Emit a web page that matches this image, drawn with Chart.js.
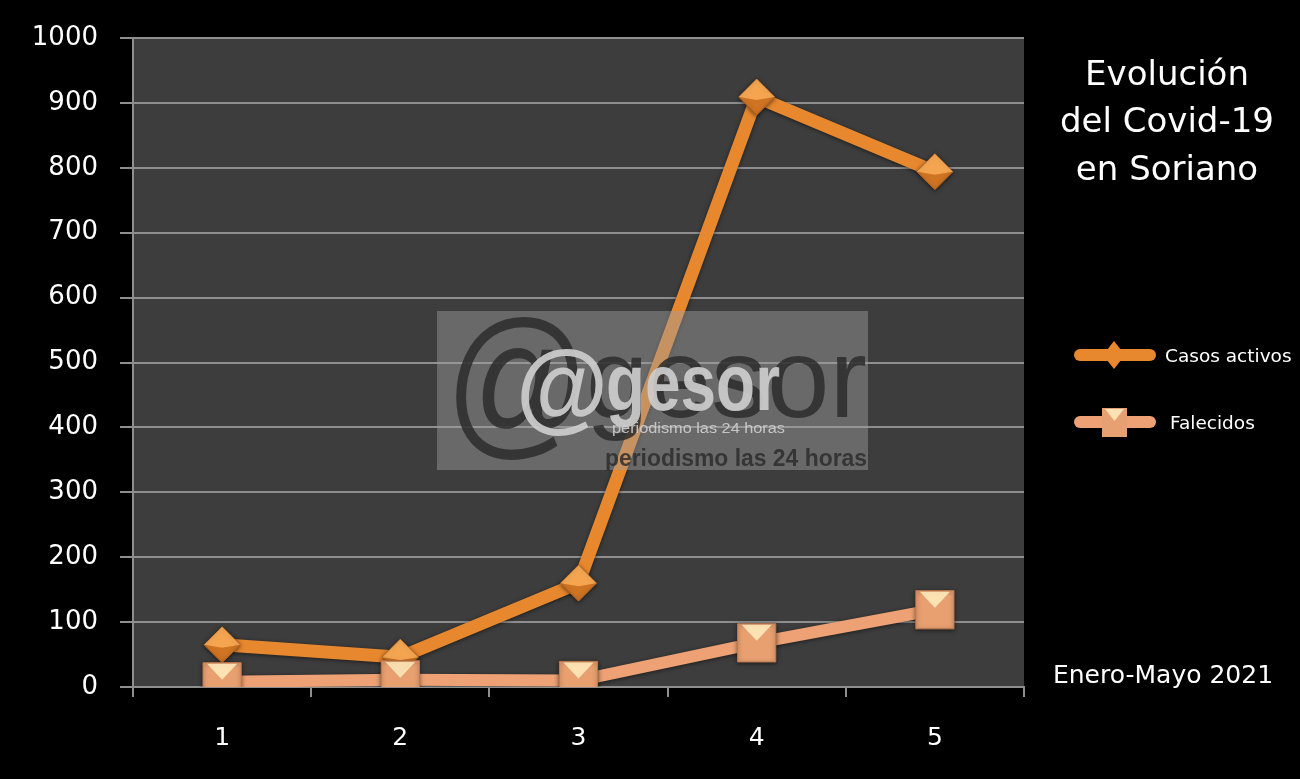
<!DOCTYPE html>
<html>
<head>
<meta charset="utf-8">
<script src="https://cdn.jsdelivr.net/npm/chart.js@4"></script>
<style>
  html, body { margin: 0; padding: 0; background: #000; }
  #wrap { position: relative; width: 1300px; height: 779px; }
</style>
</head>
<body>
<div id="wrap">
  <canvas id="covid-chart" width="1300" height="779"></canvas>
</div>
<script>
const categories = ["1", "2", "3", "4", "5"];
const casosActivos = [65, 46, 160, 909, 794];
const falecidos = [8, 11, 10, 68, 119];
const yTicks = [0, 100, 200, 300, 400, 500, 600, 700, 800, 900, 1000];
const titleLines = ["Evolución", "del Covid-19", "en Soriano"];
const subtitle = "Enero-Mayo 2021";
const seriesNames = ["Casos activos", "Falecidos"];

const ORANGE = "#E8882E";
const SALMON = "#EDA174";
const GRID = "#8e8e8e";

// plot background + black surround
const backdrop = {
  id: "backdrop",
  beforeDraw(chart) {
    const { ctx, chartArea: a } = chart;
    ctx.save();
    ctx.fillStyle = "#000";
    ctx.fillRect(0, 0, chart.width, chart.height);
    ctx.fillStyle = "#3d3d3d";
    ctx.fillRect(a.left, a.top, a.right - a.left, a.bottom - a.top);
    ctx.restore();
  }
};

// soft dark edge on lines and markers
const lineShadow = {
  id: "lineShadow",
  beforeDatasetsDraw(chart) {
    const ctx = chart.ctx;
    ctx.save();
    ctx.shadowColor = "rgba(0,0,0,0.55)";
    ctx.shadowBlur = 4;
    ctx.shadowOffsetY = 1;
  },
  afterDatasetsDraw(chart) {
    const ctx = chart.ctx;
    ctx.restore();
    // highlights on the markers, placed from the library's point elements
    ctx.save();
    chart.data.datasets.forEach((ds, i) => {
      const meta = chart.getDatasetMeta(i);
      meta.data.forEach(pt => {
        const x = pt.x, y = pt.y;
        ctx.beginPath();
        if (ds.pointStyle === "rectRot") {
          const r = ds.pointRadius;
          ctx.fillStyle = "rgba(255,190,110,0.55)";
          ctx.moveTo(x - r, y); ctx.lineTo(x, y - r); ctx.lineTo(x + r, y);
          ctx.lineTo(x, y + 3);
          ctx.closePath();
          ctx.fill();
          ctx.beginPath();
          ctx.fillStyle = "rgba(150,70,10,0.3)";
          ctx.moveTo(x - r, y); ctx.lineTo(x, y + 3); ctx.lineTo(x + r, y); ctx.lineTo(x, y + r);
          ctx.closePath();
          ctx.fill();
        } else {
          const s = ds.pointRadius * Math.SQRT1_2;
          ctx.fillStyle = "rgba(255,236,190,0.85)";
          ctx.moveTo(x - s + 4, y - s + 1); ctx.lineTo(x + s - 4, y - s + 1); ctx.lineTo(x, y - 2);
          ctx.closePath();
          ctx.fill();
        }
      });
    });
    ctx.restore();
  }
};

function fitText(ctx, text, x, y, width) {
  const w = ctx.measureText(text).width;
  ctx.save();
  ctx.translate(x, y);
  ctx.scale(width / w, 1);
  ctx.fillText(text, 0, 0);
  ctx.restore();
}

// watermark, title, subtitle and legend on the right
const decorations = {
  id: "decorations",
  afterDraw(chart) {
    const ctx = chart.ctx;
    ctx.save();

    // watermark box
    ctx.fillStyle = "rgba(160,160,160,0.45)";
    ctx.fillRect(437, 311, 431, 159);
    ctx.textBaseline = "alphabetic";
    ctx.textAlign = "left";
    ctx.fillStyle = "rgba(45,45,45,0.85)";
    ctx.font = "165px 'Liberation Sans'";
    fitText(ctx, "@", 445, 437, 145);
    ctx.font = "113px 'Liberation Sans'";
    fitText(ctx, "gesor", 586, 417, 281);
    ctx.font = "bold 23px 'Liberation Sans'";
    fitText(ctx, "periodismo las 24 horas", 605, 466, 262);
    ctx.fillStyle = "rgba(205,205,205,0.92)";
    ctx.font = "bold 100px 'Liberation Sans'";
    fitText(ctx, "@", 516, 420, 92);
    ctx.font = "bold 80px 'Liberation Sans'";
    fitText(ctx, "gesor", 606, 410, 174);
    ctx.font = "14px 'Liberation Sans'";
    fitText(ctx, "periodismo las 24 horas", 612, 433, 173);

    // title
    ctx.fillStyle = "#fff";
    ctx.textAlign = "center";
    ctx.textBaseline = "middle";
    ctx.font = "34px 'DejaVu Sans'";
    titleLines.forEach((t, i) => ctx.fillText(t, 1167, 76 + i * 47.5));
    ctx.font = "25px 'DejaVu Sans'";
    ctx.fillText(subtitle, 1163, 676);

    // legend
    const items = [
      { y: 355, color: ORANGE, style: "rectRot", text: seriesNames[0], tx: 1165 },
      { y: 422, color: SALMON, style: "rect", text: seriesNames[1], tx: 1170 }
    ];
    items.forEach(it => {
      ctx.strokeStyle = it.color;
      ctx.lineWidth = 12;
      ctx.lineCap = "round";
      ctx.beginPath();
      ctx.moveTo(1080, it.y);
      ctx.lineTo(1150, it.y);
      ctx.stroke();
      ctx.fillStyle = it.style === "rect" ? "#E6A072" : it.color;
      ctx.beginPath();
      if (it.style === "rectRot") {
        ctx.moveTo(1114 - 11, it.y); ctx.lineTo(1114, it.y - 14);
        ctx.lineTo(1114 + 11, it.y); ctx.lineTo(1114, it.y + 14);
      } else {
        ctx.rect(1102, it.y - 14, 25, 29);
      }
      ctx.closePath();
      ctx.fill();
      if (it.style === "rect") {
        ctx.fillStyle = "rgba(255,236,190,0.85)";
        ctx.beginPath();
        ctx.moveTo(1105, it.y - 13); ctx.lineTo(1124, it.y - 13); ctx.lineTo(1114.5, it.y - 1);
        ctx.closePath();
        ctx.fill();
      }
      ctx.fillStyle = "#fff";
      ctx.textAlign = "left";
      ctx.font = "18.5px 'DejaVu Sans'";
      ctx.fillText(it.text, it.tx, it.y + 2);
    });
    ctx.restore();
  }
};

const config = {
  type: "line",
  data: {
    labels: categories,
    datasets: [
      {
        label: seriesNames[0],
        data: casosActivos,
        borderColor: ORANGE,
        borderWidth: 13,
        pointStyle: "rectRot",
        pointRadius: 18,
        pointBackgroundColor: ORANGE,
        pointBorderColor: "#b5621f",
        pointBorderWidth: 1,
        tension: 0,
        order: 1
      },
      {
        label: seriesNames[1],
        data: falecidos,
        borderColor: SALMON,
        borderWidth: 12,
        pointStyle: "rect",
        pointRadius: 27,
        pointBackgroundColor: "#E9A070",
        pointBorderColor: "#c07a50",
        pointBorderWidth: 1,
        tension: 0,
        order: 0
      }
    ]
  },
  options: {
    responsive: false,
    animation: false,
    events: [],
    layout: { padding: { top: 38, right: 276, left: 0, bottom: 0 } },
    plugins: {
      legend: { display: false },
      tooltip: { enabled: false }
    },
    scales: {
      x: {
        offset: true,
        afterFit(scale) { scale.height = 92; },
        grid: {
          offset: true,
          drawOnChartArea: false,
          color: GRID,
          lineWidth: 2,
          tickLength: 10
        },
        border: { color: GRID, width: 2 },
        ticks: {
          color: "#fff",
          padding: 26,
          font: { family: "'DejaVu Sans'", size: 25 }
        }
      },
      y: {
        min: 0,
        max: 1000,
        afterFit(scale) { scale.width = 133; },
        afterBuildTicks(scale) { scale.ticks = yTicks.map(v => ({ value: v })); },
        grid: { color: GRID, lineWidth: 2, tickLength: 13 },
        border: { color: GRID, width: 2 },
        ticks: {
          color: "#fff",
          padding: 22,
          font: { family: "'DejaVu Sans'", size: 26 },
          callback: v => String(v)
        }
      }
    }
  },
  plugins: [backdrop, lineShadow, decorations]
};

const ctx = document.getElementById("covid-chart").getContext("2d");
window.covidChart = new Chart(ctx, config);
</script>
</body>
</html>
